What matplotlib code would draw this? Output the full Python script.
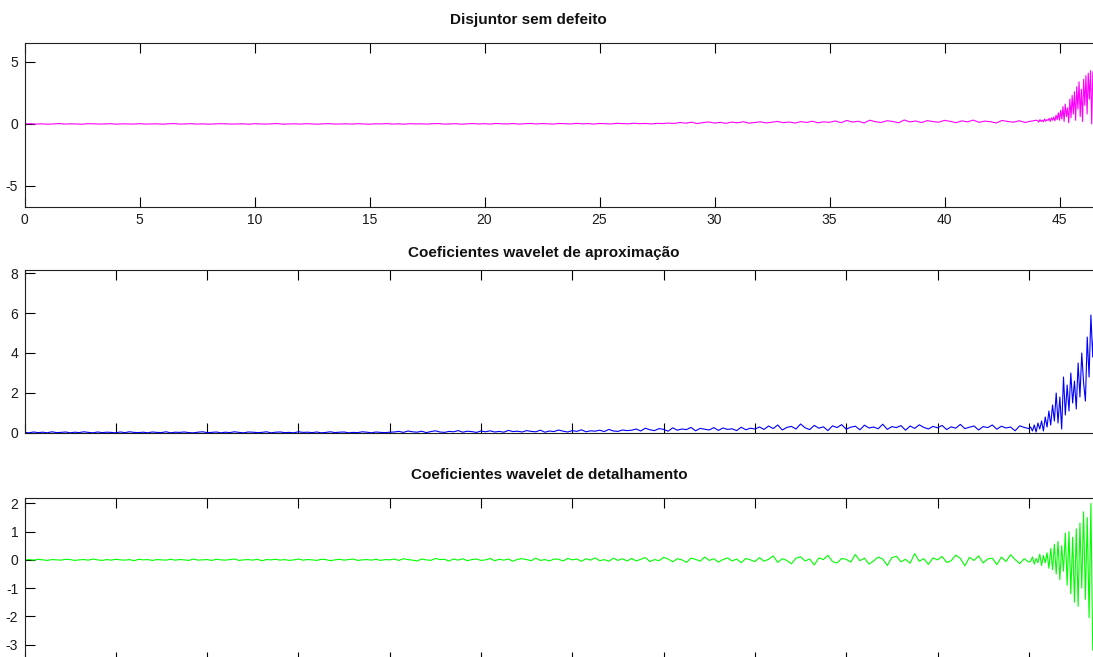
"""
Circuit breaker signal and its wavelet coefficients (MATLAB-style subplots).
"""

import matplotlib
matplotlib.use("Agg")
import matplotlib.pyplot as plt
import numpy as np

plt.rcParams["font.family"] = ["Liberation Sans", "DejaVu Sans"]
plt.rcParams["axes.unicode_minus"] = False

# values, in hundredths
# original signal: t = 0..44 s every 0.25, then 44.05..46.70 every 0.05
signal_quiet = [
    0, 2, -1, 1, -2, 0, 3, -1, 1, 0, -2, 2, 1, -1, 0, 2, -2, 1, 0, -1,
    2, -1, 0, 1, -2, 1, 3, -1, 0, 2, -1, 1, -2, 0, 2, 1, -1, 0, 1, -2,
    2, 0, -1, 1, 3, -2, 0, 1, -1, 2, 0, -2, 1, 2, -1, 0, 1, -1, 2, 0,
    -2, 1, 0, 3, -1, 1, -2, 2, 0, 1, -1, 2, 3, -1, 0, 2, -2, 1, 3, 0,
    2, -1, 4, 1, 0, 3, -1, 2, 4, 0, 3, 1, -1, 4, 2, 0, 5, 1, 3, -1,
    4, 2, 0, 5, 3, 1, 6, 2, 4, 0, 5, 3, 7,
    4, 12, 6, 14, 3, 11, 16, 7, 13, 5, 15, 9, 18, 6, 12, 17, 8, 14, 20, 10,
    16, 7, 19, 12, 22, 9, 17, 13,
    24, 10, 28, 15, 22, 8, 30, 18, 12, 26, 20, 9, 32, 16, 24, 11, 27, 19, 14, 29,
    21, 10, 25, 17, 31, 13, 23, 18, 8, 28, 20, 14, 26, 12, 22, 30,
]
signal_burst = [
    25, 15, 35, 20, 30, 18, 40, 22, 35, 28,
    45, 20, 50, 30, 55, 25, 70, 35, 90, 30,
    110, 40, 140, 20, 160, 60, 130, 10, 200, 50,
    230, 80, 260, 30, 300, 120, 340, 60, 280, 20,
    360, 150, 390, 80, 410, 200, 430, 0, 420, 250,
    440, 100, 430, 300,
]

# coefficients: index 0..5500 every 25, then 5510..5860 every 10
approx_quiet = [
    3, 1, 5, 2, 4, 1, 6, 2, 3, 5, 1, 4, 2, 6, 3, 1, 5, 2, 4, 3,
    1, 5, 2, 6, 3, 2, 4, 1, 5, 3, 2, 6, 1, 4, 3, 5, 2, 1, 4, 6,
    2, 3, 5, 1, 4, 2, 6, 3, 1, 5, 4, 2, 3, 6, 1, 4, 5, 2, 3, 1,
    6, 3, 4, 2, 5, 1, 3, 6, 2, 4, 5, 1, 3, 2, 6, 4, 1, 5, 3, 2, 4,
    5, 8, 3, 10, 6, 4, 9, 2, 7, 11, 5, 3, 8, 6, 12, 4, 9, 7, 3, 10,
    6, 11, 5, 8, 4, 13, 7, 9, 5, 12, 8, 6, 14, 4, 10, 7, 15, 9, 5, 12,
    8, 16, 6, 11, 9, 14, 7, 18, 10, 8, 15, 12,
    14, 20, 10, 24, 16, 12, 22, 18, 9, 26, 14, 20, 17, 28, 11, 23, 19, 15, 27, 13,
    25, 18, 21, 12, 29, 16, 24, 20,
    30, 18, 35, 22, 40, 15, 28, 33, 20, 45, 26, 17, 38, 24, 31, 12, 36, 27, 42, 19,
    29, 34, 16, 39, 25, 30, 21, 44, 18, 32, 27, 37, 14, 35, 23, 41, 28, 20, 33, 26,
    38, 17, 31, 24, 43, 22, 29, 35, 15, 32, 27, 40, 19, 34, 25, 30, 11, 36, 28, 22,
]
approx_burst = [
    30, 10, 40, 5, 50, 20, 60, 10, 80, 30,
    110, 40, 140, 60, 200, 50, 180, 20, 280, 90,
    240, 110, 300, 150, 260, 120, 350, 180, 400, 250,
    160, 480, 280, 590, 380, 600,
]

detail_quiet = [
    0, 1, -1, 2, 0, -2, 1, 0, -1, 2, 1, -2, 0, 1, -1, 3, 0, -2, 1, -1,
    2, 0, -1, 1, -3, 2, 0, 1, -2, 1, 0, -1, 2, -1, 1, 0, -2, 3, -1, 0,
    1, -2, 2, 0, -1, 1, 3, -2, 0, 1, -1, 2, -3, 1, 0, 2, -1, 1, -2, 0,
    3, -1, 1, 0, -2, 2, 1, -3, 0, 2, -1, 1, 3, -2, 0, 1, -1, 2, -2, 1, 0,
    3, -2, 4, 1, -1, -4, 3, 0, -2, 5, 1, 2, -4, 3, -1, 4, -3, 1, 3, -2,
    0, 5, -3, 2, -1, 3, -5, 2, 4, 1, -3, 6, -2, 1, -4, 3, 2, -4, 5, 0,
    3, -5, 4, -1, 7, -3, 1, -5, 6, -2, 4, -4,
    5, -4, 2, 8, -6, 1, -3, 9, 3, -7, 4, 0, -9, 6, 2, -5, 10, -2, 4, -8,
    1, 7, -4, 3, -10, 5, 0, -6,
    8, -5, 2, 14, -9, 4, -2, -14, 6, 11, -4, 3, -18, 7, 1, 16, -6, -11, 5, 2,
    -8, 19, -3, 6, -15, -4, 10, 3, -20, 8, 13, -7, 2, -12, 22, -5, 4, -16, 7, 0,
    12, -9, -3, 17, 5, -21, 9, -2, 14, -11, 3, 6, -17, 10, -6, 18, 1, -13, 4, -8,
]
detail_burst = [
    -5, 10, -15, 5, -10, 20, -20, 15, -10, 25,
    -30, 40, -35, 55, -50, 65, -70, 50, -40, 95,
    -90, 100, -120, 80, -150, 110, -165, 130, -100, 170,
    -140, 150, -205, 200, -320, -250,
]

TITLES = [
    "Disjuntor sem defeito",
    "Coeficientes wavelet de aproximação",
    "Coeficientes wavelet de detalhamento",
]

t = np.concatenate([np.arange(len(signal_quiet)) * 0.25,
                    44.05 + np.arange(len(signal_burst)) * 0.05])
k = np.concatenate([np.arange(len(approx_quiet)) * 25,
                    5510 + np.arange(len(approx_burst)) * 10])
signal = np.array(signal_quiet + signal_burst) / 100
approx = np.array(approx_quiet + approx_burst) / 100
detail = np.array(detail_quiet + detail_burst) / 100

W, H = 1093, 657
fig = plt.figure(figsize=(W / 100, H / 100), dpi=100)


def add_axes(top_px, bottom_px):
    left = 24.5 / W
    width = 1081 / W
    return fig.add_axes([left, 1 - bottom_px / H, width, (bottom_px - top_px) / H])


def style(ax):
    ax.tick_params(direction="in", length=7.5, width=0.8, top=True, right=True,
                   labelsize=10, pad=4.5, colors="black", labelcolor="#1a1a1a")
    for s in ax.spines.values():
        s.set_linewidth(0.8)
        s.set_color("#202020")


ax1 = add_axes(43, 207)
ax1.plot(t, signal, color="#ff00ff", lw=0.8)
ax1.set_xlim(0, 47)
ax1.set_ylim(-6.7, 6.53)
ax1.set_xticks(np.arange(0, 50, 5))
ax1.set_yticks([-5, 0, 5])
style(ax1)

ax2 = add_axes(270, 433)
ax2.plot(k, approx, color="#0000ff", lw=0.8)
ax2.set_xlim(0, 5920)
ax2.set_ylim(0, 8.15)
ax2.set_xticks(np.arange(0, 6000, 500))
ax2.set_xticklabels([])
ax2.set_yticks([0, 2, 4, 6, 8])
style(ax2)

ax3 = add_axes(497.5, 662)
ax3.plot(k, detail, color="#00ff00", lw=0.8)
ax3.set_xlim(0, 5920)
ax3.set_ylim(-3.62, 2.21)
ax3.set_xticks(np.arange(0, 6000, 500))
ax3.set_xticklabels([])
ax3.set_yticks([-3, -2, -1, 0, 1, 2])
style(ax3)

for (x, y), txt in zip([(528, 20), (544, 253), (549, 475)], TITLES):
    fig.text(x / W, 1 - y / H, txt, ha="center", va="center",
             fontsize=11, fontweight="bold", color="#111111")

fig.savefig("out.png", dpi=100)
plt.close()
